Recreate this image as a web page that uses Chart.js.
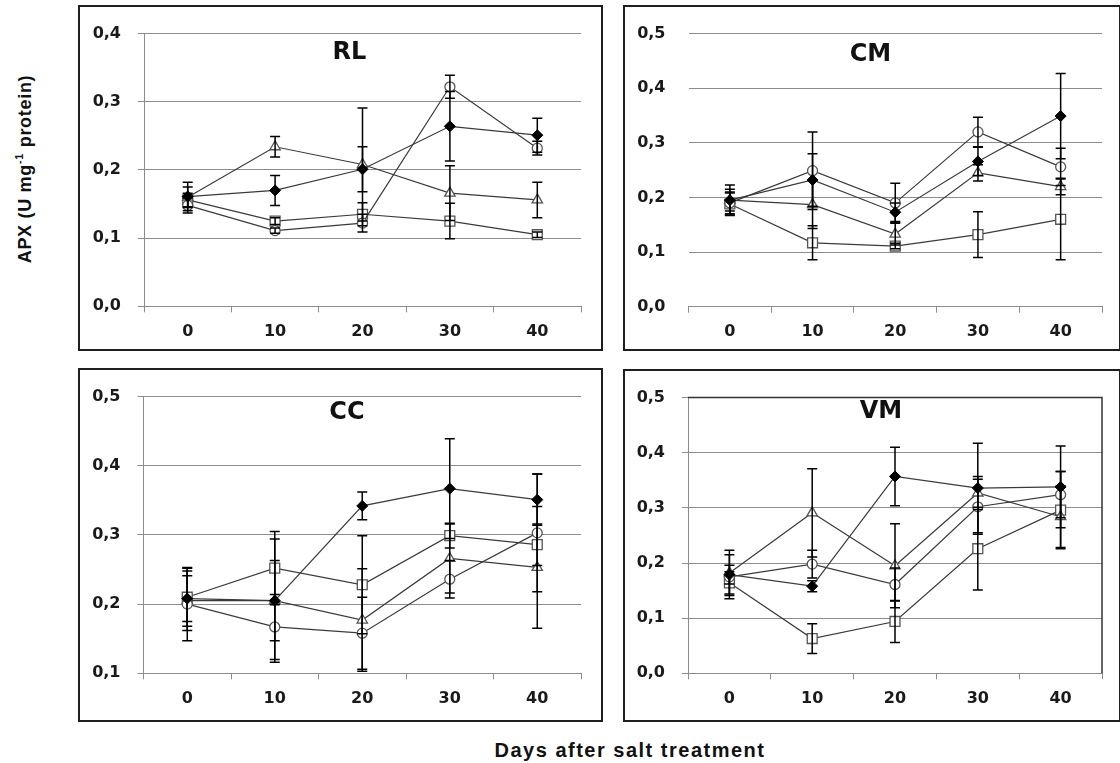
<!DOCTYPE html>
<html><head><meta charset="utf-8">
<script src="https://cdn.jsdelivr.net/npm/chart.js@4.4.1/dist/chart.umd.min.js"></script>
<style>
html,body{margin:0;padding:0;background:#fff;}
#wrap{position:relative;width:1120px;height:763px;overflow:hidden;background:#fff;}
.box{position:absolute;border:2px solid #1e1e1e;box-sizing:border-box;background:#fff;}
.box canvas{position:absolute;left:0;top:0;}
#ytitle{position:absolute;left:25px;top:169px;transform:translate(-50%,-50%) rotate(-90deg);white-space:nowrap;font:bold 18px "Liberation Sans",Arial,sans-serif;letter-spacing:0.7px;color:#111;}
#ytitle sup{font-size:0.6em;vertical-align:top;position:relative;top:-2px;}
#xtitle{position:absolute;left:630px;top:750px;transform:translate(-50%,-50%);white-space:nowrap;font:bold 20px "Liberation Sans",Arial,sans-serif;letter-spacing:1.5px;color:#111;}
</style></head>
<body>
<div id="wrap">
  <div id="ytitle">APX (U mg<sup>-1</sup> protein)</div>
  <div id="xtitle">Days after salt treatment</div>
</div>
<script>
// ---------- DATA ----------
const days = ['0', '10', '20', '30', '40'];

// RL
const rlDiamond    = [0.161, 0.170, 0.201, 0.264, 0.251];
const rlDiamondErr = [0.021, 0.022, 0.033, 0.051, 0.025];
const rlCircle     = [0.148, 0.111, 0.122, 0.322, 0.232];
const rlCircleErr  = [0.011, 0.004, 0.013, 0.017, 0.010];
const rlTriangle   = [0.160, 0.234, 0.208, 0.166, 0.156];
const rlTriangleErr= [0.015, 0.015, 0.083, 0.040, 0.026];
const rlSquare     = [0.156, 0.125, 0.135, 0.125, 0.105];
const rlSquareErr  = [0.010, 0.005, 0.017, 0.026, 0.004];

// CM
const cmDiamond    = [0.195, 0.232, 0.173, 0.266, 0.349];
const cmDiamondErr = [0.028, 0.048, 0.017, 0.026, 0.078];
const cmCircle     = [0.190, 0.249, 0.190, 0.320, 0.256];
const cmCircleErr  = [0.020, 0.071, 0.036, 0.027, 0.034];
const cmTriangle   = [0.195, 0.187, 0.133, 0.245, 0.220];
const cmTriangleErr= [0.020, 0.044, 0.020, 0.015, 0.015];
const cmSquare     = [0.188, 0.117, 0.111, 0.132, 0.160];
const cmSquareErr  = [0.020, 0.031, 0.005, 0.042, 0.074];

// CC
const ccDiamond    = [0.208, 0.205, 0.342, 0.367, 0.351];
const ccDiamondErr = [0.033, 0.058, 0.020, 0.072, 0.037];
const ccCircle     = [0.200, 0.167, 0.158, 0.236, 0.303];
const ccCircleErr  = [0.053, 0.047, 0.052, 0.027, 0.085];
const ccTriangle   = [0.205, 0.205, 0.177, 0.266, 0.253];
const ccTriangleErr= [0.043, 0.089, 0.074, 0.050, 0.088];
const ccSquare     = [0.210, 0.252, 0.228, 0.299, 0.286];
const ccSquareErr  = [0.042, 0.053, 0.071, 0.018, 0.030];

// VM
const vmDiamond    = [0.179, 0.158, 0.357, 0.336, 0.338];
const vmDiamondErr = [0.017, 0.010, 0.053, 0.081, 0.074];
const vmCircle     = [0.175, 0.198, 0.161, 0.302, 0.324];
const vmCircleErr  = [0.040, 0.025, 0.030, 0.050, 0.042];
const vmTriangle   = [0.182, 0.291, 0.195, 0.327, 0.284];
const vmTriangleErr= [0.041, 0.080, 0.076, 0.030, 0.056];
const vmSquare     = [0.164, 0.063, 0.094, 0.226, 0.296];
const vmSquareErr  = [0.020, 0.027, 0.038, 0.075, 0.070];

// ---------- STYLES ----------
const LINE = '#3a3a3a';
const GRID = '#8c8c8c';
const markerStyles = {
  diamond:  {pointStyle: 'rectRot',  pointRadius: 5.5, pointBackgroundColor: '#000', pointBorderColor: '#000', pointBorderWidth: 1},
  circle:   {pointStyle: 'circle',   pointRadius: 5,   pointBackgroundColor: '#fff', pointBorderColor: '#555', pointBorderWidth: 1.3},
  triangle: {pointStyle: 'triangle', pointRadius: 6,   pointBackgroundColor: '#fff', pointBorderColor: '#555', pointBorderWidth: 1.3},
  square:   {pointStyle: 'rect',     pointRadius: 7,   pointBackgroundColor: '#fff', pointBorderColor: '#555', pointBorderWidth: 1.3}
};

function series(vals, errs, kind) {
  return Object.assign({
    data: vals, err: errs,
    borderColor: LINE, borderWidth: 1.2,
    fill: false, tension: 0, clip: false
  }, markerStyles[kind]);
}

const errBars = {
  id: 'errBars',
  afterDatasetsDraw(chart) {
    const ctx = chart.ctx, ys = chart.scales.y;
    ctx.save();
    ctx.strokeStyle = '#000';
    ctx.lineWidth = 1.5;
    chart.data.datasets.forEach((ds, i) => {
      const meta = chart.getDatasetMeta(i);
      meta.data.forEach((pt, j) => {
        const v = ds.data[j], e = ds.err[j];
        const x = pt.x;
        const y1 = ys.getPixelForValue(v + e), y2 = ys.getPixelForValue(v - e);
        ctx.beginPath();
        ctx.moveTo(x, y1); ctx.lineTo(x, y2);
        ctx.moveTo(x - 5, y1); ctx.lineTo(x + 5, y1);
        ctx.moveTo(x - 5, y2); ctx.lineTo(x + 5, y2);
        ctx.stroke();
      });
    });
    ctx.restore();
  }
};

const panelTitle = {
  id: 'panelTitle',
  afterDraw(chart, args, o) {
    if (!o || !o.text) return;
    const ctx = chart.ctx, a = chart.chartArea;
    ctx.save();
    ctx.font = 'bold 24px "DejaVu Sans"';
    ctx.fillStyle = '#111';
    ctx.textAlign = 'center';
    ctx.textBaseline = 'middle';
    ctx.fillText(o.text, a.left + o.fx * (a.right - a.left), a.top + o.dy);
    ctx.restore();
  }
};

const frame = {
  id: 'frame',
  afterDraw(chart, args, o) {
    if (!o || !o.on) return;
    const ctx = chart.ctx, a = chart.chartArea;
    ctx.save();
    ctx.strokeStyle = '#333';
    ctx.lineWidth = 1.5;
    ctx.beginPath();
    ctx.moveTo(a.left, a.top); ctx.lineTo(a.right, a.top); ctx.lineTo(a.right, a.bottom);
    ctx.stroke();
    ctx.restore();
  }
};

function makePanel(p) {
  const wrap = document.getElementById('wrap');
  const box = document.createElement('div');
  box.className = 'box';
  const [bl, bt, br, bb] = p.box;
  box.style.left = bl + 'px'; box.style.top = bt + 'px';
  box.style.width = (br - bl) + 'px'; box.style.height = (bb - bt) + 'px';
  wrap.appendChild(box);
  const cw = br - bl - 4, ch = bb - bt - 4;
  const cv = document.createElement('canvas');
  cv.width = cw; cv.height = ch;
  cv.style.width = cw + 'px'; cv.style.height = ch + 'px';
  box.appendChild(cv);
  const cl = bl + 2, ct = bt + 2;
  const [al, at, ar, ab] = p.area;
  const yW = al - cl, xH = ch - (ab - ct);
  const tickFont = {family: 'DejaVu Sans', size: 16, weight: 'bold'};
  new Chart(cv, {
    type: 'line',
    data: {labels: days, datasets: p.datasets},
    plugins: [errBars, panelTitle, frame],
    options: {
      responsive: false, animation: false, devicePixelRatio: 1,
      layout: {padding: {left: 0, top: at - ct, right: cw - (ar - cl), bottom: 0}},
      plugins: {
        legend: {display: false}, tooltip: {enabled: false},
        panelTitle: {text: p.title, fx: p.fx, dy: p.dy},
        frame: {on: !!p.frame}
      },
      scales: {
        x: {
          type: 'category', offset: true,
          grid: {offset: true, drawOnChartArea: false, drawTicks: true, tickLength: 6, color: GRID, lineWidth: 1},
          border: {display: true, color: GRID, width: 1},
          ticks: {font: tickFont, color: '#1a1a1a', padding: 10, maxRotation: 0},
          afterFit: s => { s.height = xH; }
        },
        y: {
          min: p.min, max: p.max,
          grid: {color: GRID, lineWidth: 1, tickLength: 6, drawTicks: true, tickColor: p.noYAxis ? 'rgba(0,0,0,0)' : GRID},
          border: {display: !p.noYAxis, color: GRID, width: 1},
          ticks: {stepSize: 0.1, font: tickFont, color: '#1a1a1a', padding: 17,
                  callback: v => v.toFixed(1).replace('.', ',')},
          afterFit: s => { s.width = yW; }
        }
      }
    }
  });
}

makePanel({
  box: [78, 5, 603, 351], area: [144, 25.5, 581, 306.3], min: 0, max: 0.4,
  title: 'RL', fx: 0.47, dy: 19.5,
  datasets: [series(rlDiamond, rlDiamondErr, 'diamond'), series(rlCircle, rlCircleErr, 'circle'),
             series(rlTriangle, rlTriangleErr, 'triangle'), series(rlSquare, rlSquareErr, 'square')]
});
makePanel({
  box: [623, 5, 1121, 351], area: [688.5, 24, 1102, 306.7], min: 0, max: 0.5, noYAxis: true,
  title: 'CM', fx: 0.44, dy: 21,
  datasets: [series(cmDiamond, cmDiamondErr, 'diamond'), series(cmCircle, cmCircleErr, 'circle'),
             series(cmTriangle, cmTriangleErr, 'triangle'), series(cmSquare, cmSquareErr, 'square')]
});
makePanel({
  box: [78, 368, 603, 722], area: [143.5, 387, 581, 673.3], min: 0.1, max: 0.5,
  title: 'CC', fx: 0.465, dy: 16,
  datasets: [series(ccDiamond, ccDiamondErr, 'diamond'), series(ccCircle, ccCircleErr, 'circle'),
             series(ccTriangle, ccTriangleErr, 'triangle'), series(ccSquare, ccSquareErr, 'square')]
});
makePanel({
  box: [623, 369, 1121, 722], area: [688, 389, 1102, 673.3], min: 0, max: 0.5, frame: true,
  title: 'VM', fx: 0.466, dy: 14,
  datasets: [series(vmDiamond, vmDiamondErr, 'diamond'), series(vmCircle, vmCircleErr, 'circle'),
             series(vmTriangle, vmTriangleErr, 'triangle'), series(vmSquare, vmSquareErr, 'square')]
});
</script>
</body></html>
